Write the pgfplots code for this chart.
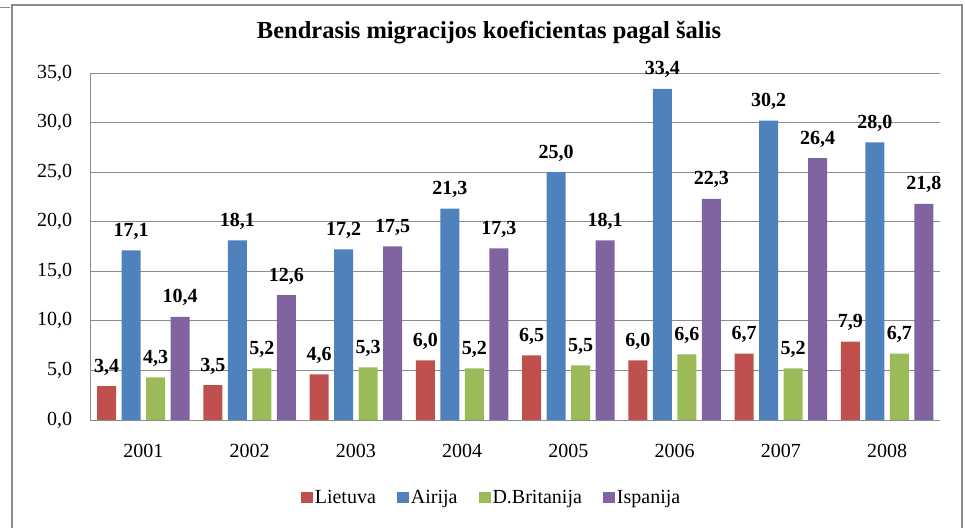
\documentclass[border=0pt]{standalone}
\usepackage{fontspec}
\setmainfont{Liberation Serif}
\usepackage{pgfplots}
\pgfplotsset{compat=1.18}
\definecolor{cLt}{HTML}{C0504D}
\definecolor{cIe}{HTML}{4F81BD}
\definecolor{cUk}{HTML}{9BBB59}
\definecolor{cEs}{HTML}{8064A2}
\definecolor{gridc}{HTML}{8C8C8C}
\begin{document}
\begin{tikzpicture}[x=1pt,y=1pt]
\useasboundingbox (0,0) rectangle (965,527);
\draw[gridc, line width=1.5pt] (12,-5) -- (12,522) -- (962,522) -- (962,-5);
\draw[gridc, line width=1pt] (0,519) -- (10,519);
\node[font=\fontsize{24.5}{28}\selectfont\bfseries] at (489,494) {Bendrasis migracijos koeficientas pagal šalis};
\begin{axis}[
  at={(85,108)}, anchor=south west,
  scale only axis, width=850pt, height=347pt,
  xmin=-0.5, xmax=7.5, ymin=0, ymax=35,
  enlargelimits=false,
  ybar=5.5pt, bar width=19pt,
  xtick={0,...,7},
  xticklabels={2001,2002,2003,2004,2005,2006,2007,2008},
  ytick={0,5,...,35},
  major tick length=0pt,
  axis x line*=bottom, axis y line*=left,
  axis line style={draw=gridc, line width=0.8pt},
  ymajorgrids, grid style={draw=gridc, line width=0.8pt},
  /pgf/number format/assume math mode=true,
  /pgf/number format/.cd, fixed, fixed zerofill, precision=1, use comma,
  /pgfplots/.cd,
  tick label style={font=\fontsize{20}{24}\selectfont},
  yticklabel style={anchor=east, inner sep=0pt, xshift=-18pt},
  xticklabel style={anchor=north, inner sep=0pt, yshift=-24pt},
  nodes near coords,
  nodes near coords style={font=\fontsize{20}{24}\selectfont\bfseries, anchor=base, inner sep=0pt, yshift=14pt, /pgf/number format/.cd, fixed, fixed zerofill, precision=1, use comma},
  legend style={draw=none, at={(0.472,-0.225)}, anchor=center, legend columns=4,
    font=\fontsize{20}{24}\selectfont,
    /tikz/every even column/.append style={column sep=19pt}},
  legend image code/.code={\fill[#1] (0pt,-5pt) rectangle (12pt,6pt);},
]
\addplot[fill=cLt, draw=none] coordinates {(0,3.4) (1,3.5) (2,4.6) (3,6.0) (4,6.5) (5,6.0) (6,6.7) (7,7.9)};
\addplot[fill=cIe, draw=none] coordinates {(0,17.1) (1,18.1) (2,17.2) (3,21.3) (4,25.0) (5,33.4) (6,30.2) (7,28.0)};
\addplot[fill=cUk, draw=none] coordinates {(0,4.3) (1,5.2) (2,5.3) (3,5.2) (4,5.5) (5,6.6) (6,5.2) (7,6.7)};
\addplot[fill=cEs, draw=none] coordinates {(0,10.4) (1,12.6) (2,17.5) (3,17.3) (4,18.1) (5,22.3) (6,26.4) (7,21.8)};
\legend{Lietuva,Airija,D.Britanija,Ispanija}
\end{axis}
\end{tikzpicture}
\end{document}
